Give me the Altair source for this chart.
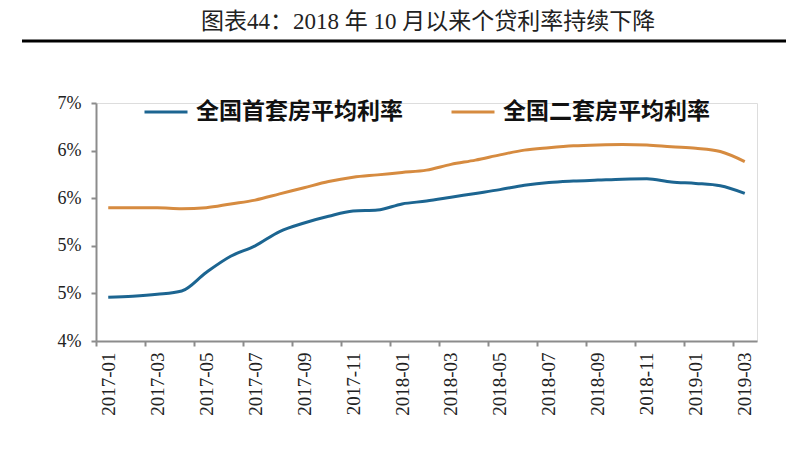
import altair as alt
import pandas as pd

title_text = "图表44：2018 年 10 月以来个贷利率持续下降"

months = [
    "2017-01", "2017-02", "2017-03", "2017-04", "2017-05", "2017-06",
    "2017-07", "2017-08", "2017-09", "2017-10", "2017-11", "2017-12",
    "2018-01", "2018-02", "2018-03", "2018-04", "2018-05", "2018-06",
    "2018-07", "2018-08", "2018-09", "2018-10", "2018-11", "2018-12",
    "2019-01", "2019-02", "2019-03",
]

series_names = ["全国首套房平均利率", "全国二套房平均利率"]

first_home = [
    4.46, 4.47, 4.49, 4.525, 4.72, 4.89, 5.00, 5.15, 5.24, 5.31, 5.365, 5.375,
    5.44, 5.47, 5.51, 5.55, 5.59, 5.635, 5.665, 5.68, 5.69, 5.70, 5.705, 5.67,
    5.655, 5.63, 5.55,
]

second_home = [
    5.40, 5.40, 5.40, 5.39, 5.40, 5.44, 5.48, 5.545, 5.61, 5.675, 5.72, 5.745,
    5.77, 5.795, 5.855, 5.90, 5.955, 6.005, 6.03, 6.05, 6.06, 6.065, 6.06, 6.04,
    6.025, 5.99, 5.885,
]

y_ticks = [4.0, 4.5, 5.0, 5.5, 6.0, 6.5]
y_tick_labels = ["4%", "5%", "5%", "6%", "6%", "7%"]

colors = ["#1C6591", "#D68B40"]

rows = []
for i, m in enumerate(months):
    rows.append({"pos": i + 0.5, "month": m, "series": series_names[0], "rate": first_home[i]})
for i, m in enumerate(months):
    rows.append({"pos": i + 0.5, "month": m, "series": series_names[1], "rate": second_home[i]})
df = pd.DataFrame(rows)

n = len(months)
x_scale = alt.Scale(domain=[0, n], nice=False, zero=False)
y_scale = alt.Scale(domain=[y_ticks[0], y_ticks[-1]], nice=False, zero=False)

month_js = "[" + ",".join("'" + m + "'" for m in months) + "]"
ylab_js = "[" + ",".join("'" + s + "'" for s in y_tick_labels) + "]"

axis_gray = "#8C8C8C"

tick_axis = alt.Axis(
    values=list(range(0, n, 2)), labels=False, ticks=True, tickSize=5,
    tickColor=axis_gray, tickWidth=2, domainColor=axis_gray, domainWidth=2,
    grid=False, title=None, orient="bottom",
)
label_axis = alt.Axis(
    values=[i + 0.5 for i in range(0, n, 2)],
    labelExpr=month_js + "[floor(datum.value)]",
    ticks=False, domain=False, grid=False, labelAngle=-90,
    labelFont="Liberation Serif", labelFontSize=19, labelColor="#222222",
    labelPadding=11, title=None, orient="bottom",
)
y_axis = alt.Axis(
    values=y_ticks,
    labelExpr=ylab_js + "[round((datum.value - 4) * 2)]",
    tickSize=5, tickColor=axis_gray, tickWidth=2, domainColor=axis_gray,
    domainWidth=2, grid=False, title=None, labelFont="Liberation Serif",
    labelFontSize=18, labelColor="#222222", labelPadding=10, orient="left",
)

legend = alt.Legend(
    orient="none", legendX=47, legendY=-14, direction="horizontal", columns=2,
    symbolType="stroke", symbolSize=1849, symbolStrokeWidth=3,
    labelFont="Noto Sans CJK SC", labelFontSize=23, labelFontWeight="bold",
    labelColor="#111111", labelOffset=7, columnPadding=42, title=None,
    padding=0, labelLimit=400,
)

lines = alt.Chart(df).mark_line(strokeWidth=3, interpolate="monotone").encode(
    x=alt.X("pos:Q", scale=x_scale, axis=tick_axis),
    y=alt.Y("rate:Q", scale=y_scale, axis=y_axis),
    color=alt.Color("series:N", scale=alt.Scale(domain=series_names, range=colors), legend=legend),
)

labels_layer = alt.Chart(df).mark_line(opacity=0).encode(
    x=alt.X("pos:Q", scale=x_scale, axis=label_axis),
    y=alt.Y("rate:Q", scale=y_scale, axis=y_axis),
    detail="series:N",
)

title_layer = alt.Chart(pd.DataFrame({"t": [title_text]})).mark_text(
    font="Liberation Serif, 'Noto Sans CJK SC'", fontSize=23, color="#222222",
    align="center", baseline="middle",
).encode(text="t:N", x=alt.value(332), y=alt.value(-81))

rule_df = pd.DataFrame({"k": [1]})
rule_top = alt.Chart(rule_df).mark_rule(color="black", strokeWidth=3).encode(
    x=alt.value(-74), x2=alt.value(690), y=alt.value(-62)
)
rule_bottom = alt.Chart(rule_df).mark_rule(color="black", strokeWidth=3).encode(
    x=alt.value(-74), x2=alt.value(690), y=alt.value(354)
)

chart = alt.layer(lines, labels_layer, title_layer, rule_top, rule_bottom).resolve_axis(
    x="independent"
).properties(
    width=661, height=238,
    padding={"left": 88, "top": 95, "right": 40, "bottom": 110},
    autosize=alt.AutoSizeParams(type="none"),
).configure_view(stroke=None).configure(background="white")

chart.save("out.html", embed_options={"renderer": "svg", "actions": False})
